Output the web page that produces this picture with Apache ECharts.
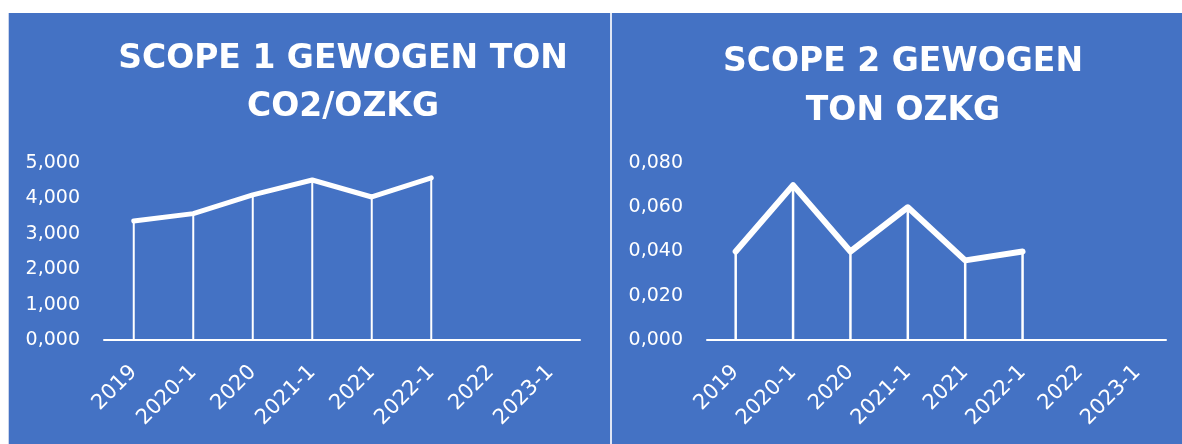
<!DOCTYPE html>
<html>
<head>
<meta charset="utf-8">
<script src="https://cdn.jsdelivr.net/npm/echarts@6/dist/echarts.min.js"></script>
<style>
  html, body {margin: 0; padding: 0; background: #fff;}
  #chart {width: 1182px; height: 444px;}
</style>
</head>
<body>
<div id="chart"></div>
<script>
const categories = ['2019', '2020-1', '2020', '2021-1', '2021', '2022-1', '2022', '2023-1']
const scope1 = [3.36, 3.57, 4.10, 4.52, 4.04, 4.58, null, null]
const scope2 = [0.040, 0.070, 0.040, 0.060, 0.036, 0.040, null, null]
const scope1Ticks = {min: 0, max: 5, interval: 1}
const scope2Ticks = {min: 0, max: 0.08, interval: 0.02}

const blue = '#4472C4'
const fmt = v => v.toFixed(3).replace('.', ',')

const myChart = echarts.init(document.getElementById('chart'))

const xAxisBase = (gridIndex) => ({
    type: 'category',
    gridIndex,
    data: categories,
    boundaryGap: true,
    axisLine: {show: true, lineStyle: {color: '#fff', width: 2}},
    axisTick: {show: false},
    axisLabel: {
        color: '#fff', fontSize: 21, fontFamily: 'DejaVu Sans',
        rotate: 45, margin: 29, interval: 0
    },
    splitLine: {show: false}
})

const yAxisBase = (gridIndex, ticks) => ({
    type: 'value',
    gridIndex,
    min: ticks.min,
    max: ticks.max,
    interval: ticks.interval,
    axisLine: {show: false},
    axisTick: {show: false},
    splitLine: {show: false},
    axisLabel: {
        color: '#fff', fontSize: 19, fontFamily: 'DejaVu Sans', margin: 24,
        formatter: fmt
    }
})

const option = {
    backgroundColor: '#fff',
    animation: false,
    graphic: [
        {type: 'rect', shape: {x: 8, y: 13, width: 1174, height: 431}, style: {fill: blue}, z: -10},
        {type: 'line', shape: {x1: 8.5, y1: 13, x2: 8.5, y2: 444}, style: {stroke: '#c9d4ec', lineWidth: 1}, z: -9},
        {type: 'line', shape: {x1: 611, y1: 13, x2: 611, y2: 444}, style: {stroke: '#dfe6f5', lineWidth: 2}, z: -9}
    ],
    title: [
        {
            text: 'SCOPE 1 GEWOGEN TON\nCO2/OZKG',
            left: 338, top: 30, textAlign: 'center',
            textStyle: {color: '#fff', fontFamily: 'DejaVu Sans', fontWeight: 'bold', fontSize: 33, lineHeight: 48}
        },
        {
            text: 'SCOPE 2 GEWOGEN\nTON OZKG',
            left: 898, top: 33, textAlign: 'center',
            textStyle: {color: '#fff', fontFamily: 'DejaVu Sans', fontWeight: 'bold', fontSize: 33, lineHeight: 49}
        }
    ],
    grid: [
        {left: 104, top: 163, width: 476, height: 177},
        {left: 707, top: 163, width: 459, height: 177}
    ],
    xAxis: [xAxisBase(0), xAxisBase(1)],
    yAxis: [yAxisBase(0, scope1Ticks), yAxisBase(1, scope2Ticks)],
    series: [
        {
            type: 'bar', xAxisIndex: 0, yAxisIndex: 0, data: scope1,
            barWidth: 2, itemStyle: {color: '#fff'}, z: 1
        },
        {
            type: 'line', xAxisIndex: 0, yAxisIndex: 0, data: scope1,
            showSymbol: false, symbol: 'none',
            lineStyle: {color: '#fff', width: 5, cap: 'round', join: 'round'}, z: 2
        },
        {
            type: 'bar', xAxisIndex: 1, yAxisIndex: 1, data: scope2,
            barWidth: 2.5, itemStyle: {color: '#fff'}, z: 1
        },
        {
            type: 'line', xAxisIndex: 1, yAxisIndex: 1, data: scope2,
            showSymbol: false, symbol: 'none',
            lineStyle: {color: '#fff', width: 6, cap: 'round', join: 'round'}, z: 2
        }
    ]
}
myChart.setOption(option)
</script>
</body>
</html>
